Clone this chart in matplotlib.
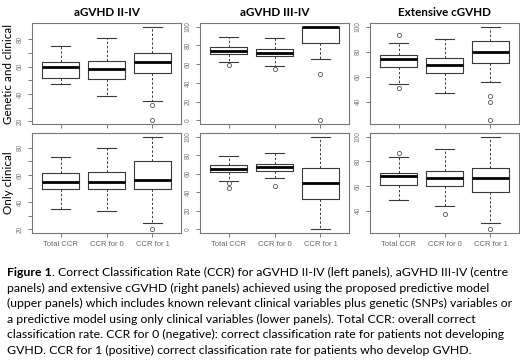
import numpy as np
import matplotlib
matplotlib.use("Agg")
import matplotlib.pyplot as plt

# panel titles, row labels and group names
titles = ["aGVHD II-IV", "aGVHD III-IV", "Extensive cGVHD"]
row_labels = ["Genetic and clinical", "Only clinical"]
groups = ["Total CCR", "CCR for 0", "CCR for 1"]

# box statistics (one list per panel column, one value per group)
# upper row: genetic + clinical model
gen_lo = [[47, 38.2, 34.6], [61.8, 57.9, 65], [54.4, 47, 55.5]]
gen_q1 = [[51.6, 50.8, 55], [71.2, 68.4, 82.8], [67.7, 63.2, 71.2]]
gen_med = [[59.6, 58, 63.4], [73.7, 72, 100], [74.1, 69.6, 79.7]]
gen_q3 = [[63.4, 64.4, 70.2], [78.2, 76.5, 100], [77, 74.7, 88.5]]
gen_hi = [[75, 80.7, 89.2], [89, 87.7, 100], [86.7, 89.9, 100]]
gen_out = [[[], [], [31.7, 20.7]],
           [[58.6], [55], [49, 0]],
           [[93.3, 51.2], [], [44.3, 40, 25.1]]]

# lower row: only clinical model
cli_lo = [[34.6, 33.2, 24.9], [51.8, 55.4, 0], [48.3, 43.7, 29.6]]
cli_q1 = [[49.8, 49.8, 49.8], [61.4, 63.2, 32.9], [61.1, 59.7, 55.2]]
cli_med = [[55.1, 55.1, 55.9], [64.6, 67.1, 50], [67.7, 66.7, 66.7]]
cli_q3 = [[61.5, 62.4, 70], [69.6, 71, 65.7], [70.7, 72.5, 74.4]]
cli_hi = [[72.9, 79.8, 88], [79.6, 82.9, 100], [83.5, 90.1, 100]]
cli_out = [[[], [], [20]],
           [[50, 44.3], [47.1], []],
           [[86.7], [37.6], [24.8]]]

caption = [
    "Correct Classification Rate (CCR) for aGVHD II-IV (left panels), aGVHD III-IV (centre",
    "panels) and extensive cGVHD (right panels) achieved using the proposed predictive model",
    "(upper panels) which includes known relevant clinical variables plus genetic (SNPs) variables or",
    "a predictive model using only clinical variables (lower panels). Total CCR: overall correct",
    "classification rate. CCR for 0 (negative): correct classification rate for patients not developing",
    "GVHD. CCR for 1 (positive) correct classification rate for patients who develop GVHD.",
]

W, H = 520, 360
fig = plt.figure(figsize=(W / 100, H / 100), dpi=100)

col_left = [32, 200, 370]
col_w = 149
row_top = [23, 133]
row_h = [101, 100]

tick_sets = [np.arange(20, 81, 10), np.arange(0, 101, 20), np.arange(20, 101, 20)]

rows = [(gen_lo, gen_q1, gen_med, gen_q3, gen_hi, gen_out),
        (cli_lo, cli_q1, cli_med, cli_q3, cli_hi, cli_out)]

for r, (lo, q1, med, q3, hi, out) in enumerate(rows):
    for c in range(3):
        ax = fig.add_axes([col_left[c] / W, 1 - (row_top[r] + row_h[r]) / H,
                           col_w / W, row_h[r] / H])
        stats = []
        for g in range(3):
            stats.append(dict(whislo=lo[c][g], q1=q1[c][g], med=med[c][g],
                              q3=q3[c][g], whishi=hi[c][g], fliers=out[c][g]))
        ax.bxp(stats, positions=[1, 2, 3], widths=0.8, showfliers=True,
               boxprops=dict(color="#3a3a3a", lw=0.8),
               whiskerprops=dict(color="#3a3a3a", lw=0.7, ls=(0, (2.5, 2))),
               capprops=dict(color="#3a3a3a", lw=0.8),
               medianprops=dict(color="black", lw=2.0, solid_capstyle="butt"),
               flierprops=dict(marker="o", markersize=3, markerfacecolor="none",
                               markeredgecolor="#555555", markeredgewidth=0.6))
        vals = lo[c] + hi[c] + [v for g in out[c] for v in g]
        ymin, ymax = min(vals), max(vals)
        pad = 0.04 * (ymax - ymin)
        ax.set_ylim(ymin - pad, ymax + pad)
        ax.set_xlim(0.38, 3.62)

        ticks = [t for t in tick_sets[c] if ymin - pad <= t <= ymax + pad]
        ax.set_yticks(ticks)
        ax.set_yticklabels([str(t) if t % 20 == 0 else "" for t in ticks],
                           rotation=90, va="center", family="Liberation Sans",
                           fontsize=4.8, color="#777777")
        ax.set_xticks([1, 2, 3])
        if r == 1:
            ax.set_xticklabels(groups, family="Liberation Sans", fontsize=5.5,
                               color="#666666")
        else:
            ax.set_xticklabels([])
        ax.tick_params(length=3, width=0.6, color="#666666", pad=3)
        for s in ax.spines.values():
            s.set_color("#777777")
            s.set_linewidth(0.8)

        if r == 0:
            ax.set_title(titles[c], family="Lato", fontweight="bold",
                         fontsize=8.4, pad=5)
        if c == 0:
            fig.text(8.5 / W, 1 - (row_top[r] + row_h[r] / 2) / H, row_labels[r],
                     rotation=90, ha="center", va="center", family="Lato",
                     fontsize=8.4)

# caption, one line at a time
x0 = 7 / W
base = 276.5
step = 15.4
fs = 8.8
t0 = fig.text(x0, 1 - base / H, "Figure 1", family="Lato", fontweight="bold",
              fontsize=fs, va="baseline")
fig.canvas.draw()
bb = t0.get_window_extent()
fig.text(bb.x1 / W, 1 - base / H, ". " + caption[0], family="Lato",
         fontsize=fs, va="baseline")
for i, line in enumerate(caption[1:], start=1):
    fig.text(x0, 1 - (base + i * step) / H, line, family="Lato", fontsize=fs,
             va="baseline")

fig.savefig("out.png", dpi=100)
